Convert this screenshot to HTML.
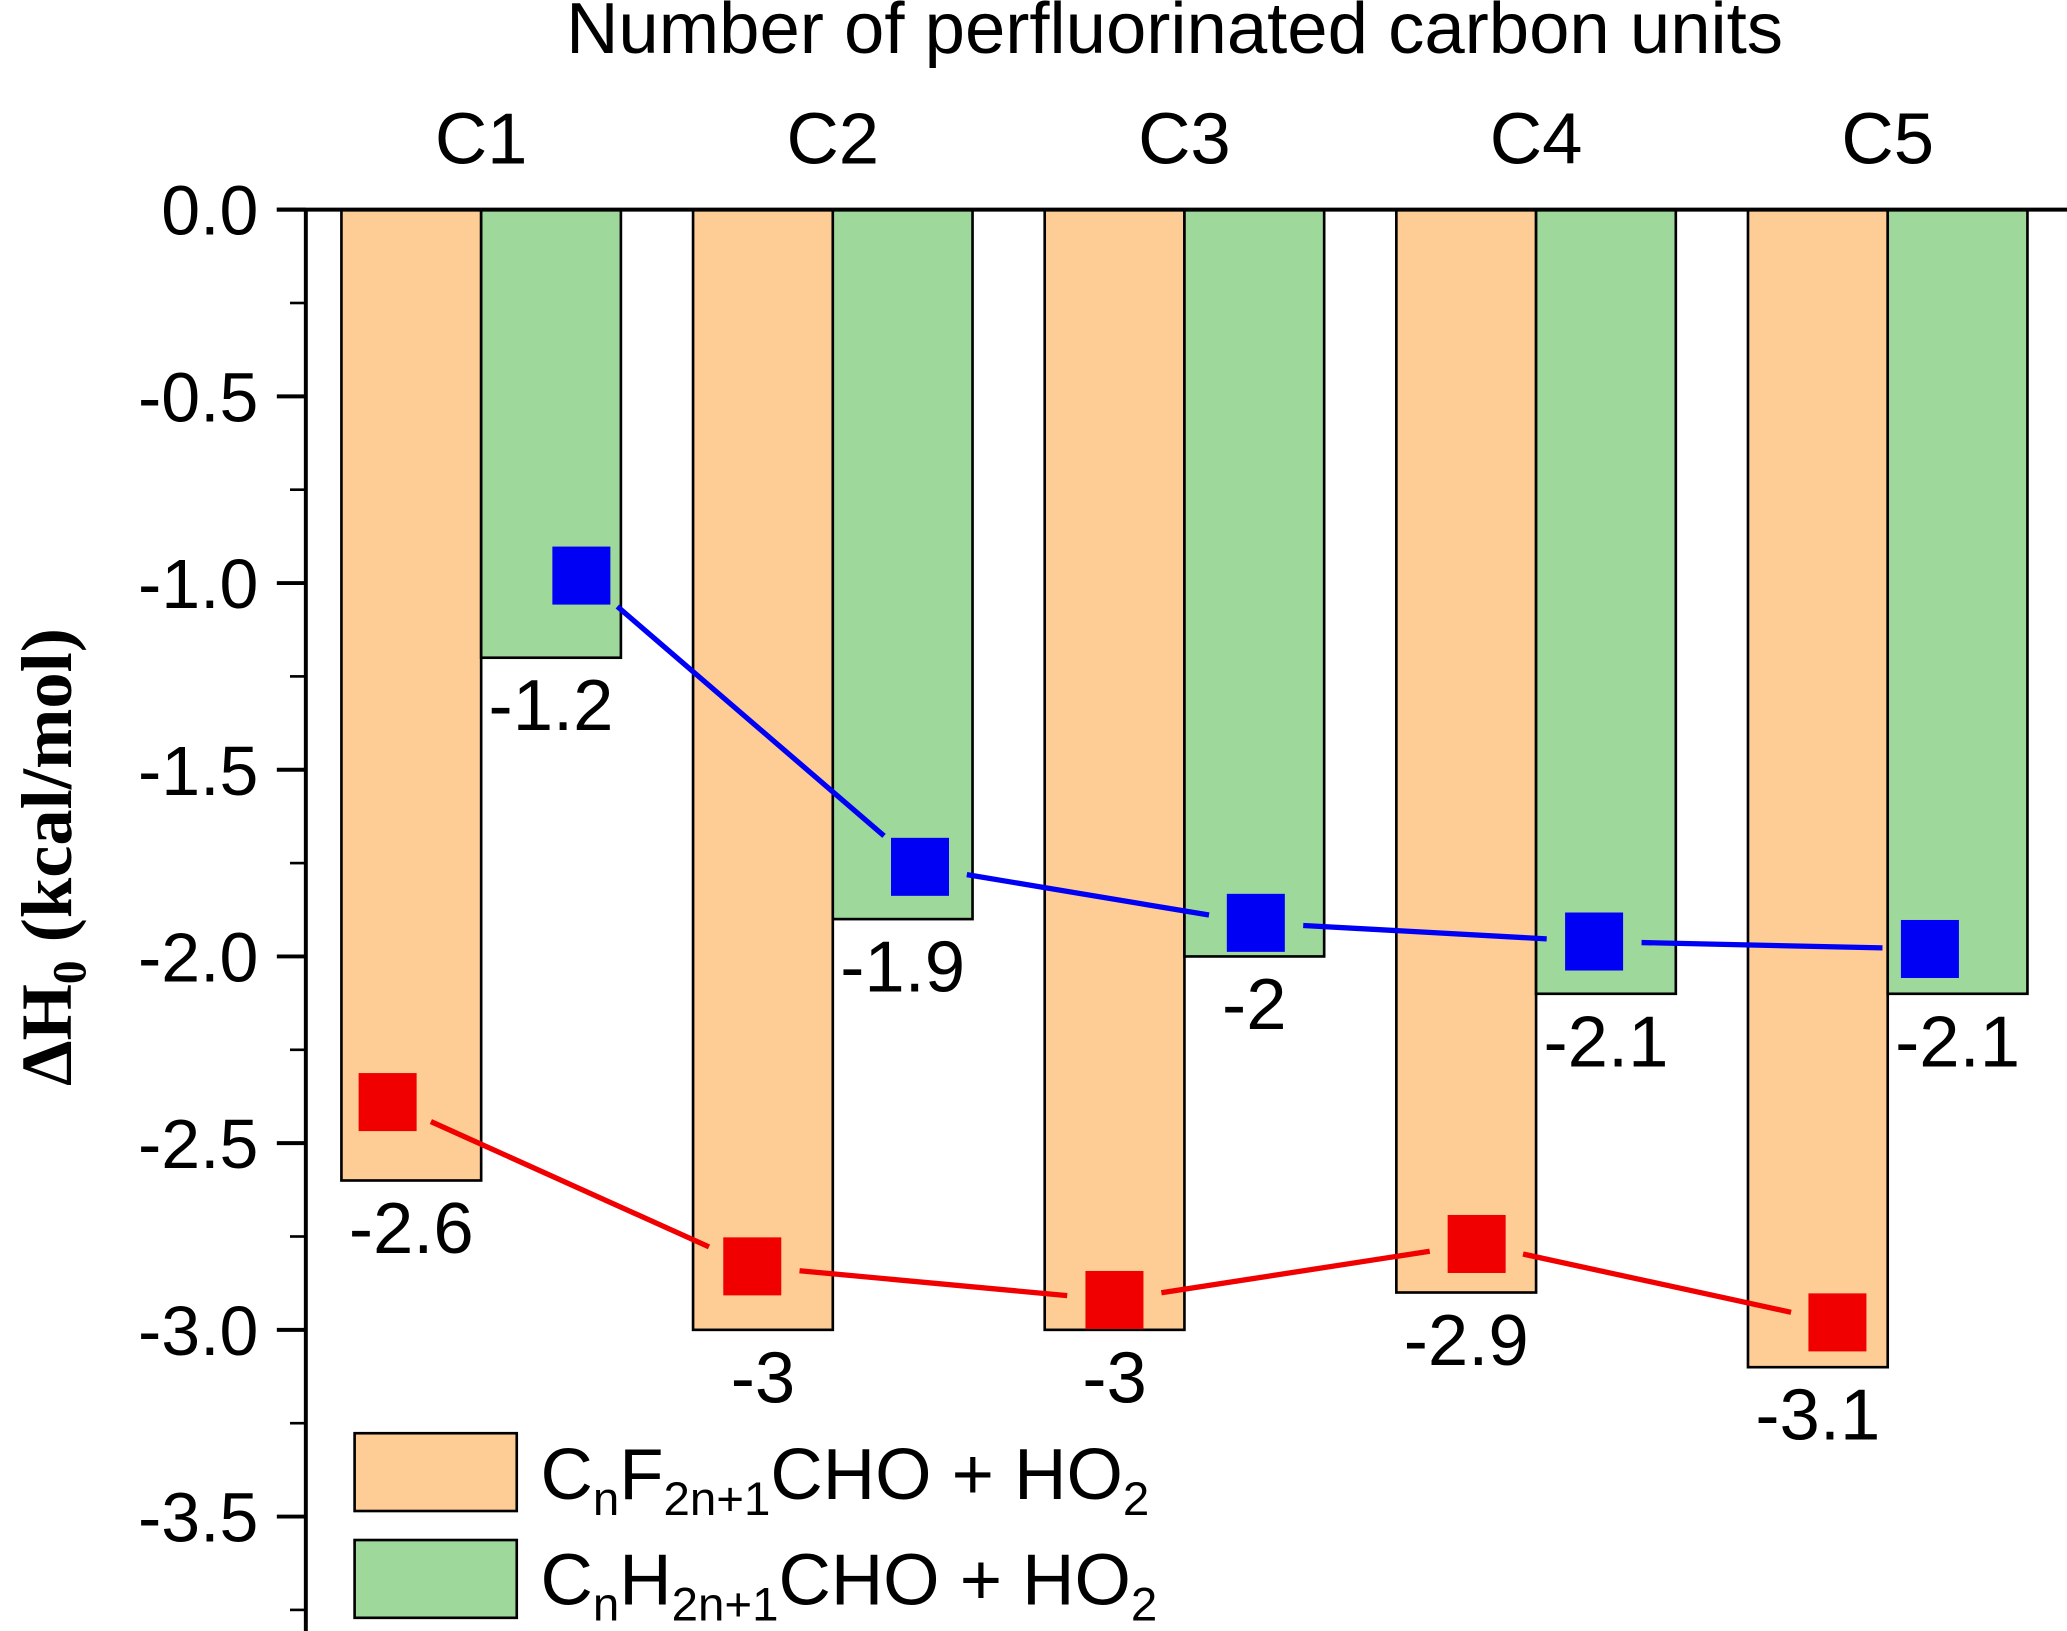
<!DOCTYPE html>
<html><head><meta charset="utf-8"><style>
html,body{margin:0;padding:0;background:#fff;}
svg{display:block;font-family:"Liberation Sans",Arial,sans-serif;}
</style></head><body>
<svg id="chart" width="2067" height="1631" viewBox="0 0 1568 1237" preserveAspectRatio="none" xmlns="http://www.w3.org/2000/svg">
<g id="bars"></g><g id="axes"></g><g id="lines"></g><g id="marks"></g><g id="labels"></g>
<text x="891" y="40" font-size="55" text-anchor="middle">Number of perfluorinated carbon units</text>
<text transform="translate(54,650) rotate(-90)" font-size="55" font-weight="bold" text-anchor="middle" font-family="Liberation Serif,serif">ΔH<tspan font-size="36" dy="11">0</tspan><tspan dy="-11"> (kcal/mol)</tspan></text>
<g>
<rect x="269" y="1087" width="123" height="59" fill="#FDCD95" stroke="#000" stroke-width="2"/>
<text x="410" y="1137" font-size="55">C<tspan font-size="36" dy="12">n</tspan><tspan dy="-12">F</tspan><tspan font-size="36" dy="12">2n+1</tspan><tspan dy="-12">CHO + HO</tspan><tspan font-size="36" dy="12">2</tspan></text>
<rect x="269" y="1168" width="123" height="59" fill="#9ED89B" stroke="#000" stroke-width="2"/>
<text x="410" y="1217" font-size="55">C<tspan font-size="36" dy="12">n</tspan><tspan dy="-12">H</tspan><tspan font-size="36" dy="12">2n+1</tspan><tspan dy="-12">CHO + HO</tspan><tspan font-size="36" dy="12">2</tspan></text>
</g>
</svg>
<script>
const categories = ["C1","C2","C3","C4","C5"];
const fluorinated = [-2.6,-3.0,-3.0,-2.9,-3.1];
const hydrogenated = [-1.2,-1.9,-2.0,-2.1,-2.1];
const fluorLabels = ["-2.6","-3","-3","-2.9","-3.1"];
const hydroLabels = ["-1.2","-1.9","-2","-2.1","-2.1"];
const blueX = [1.285,2.248,3.203,4.165,5.12];
const blueY = [-0.98,-1.76,-1.91,-1.96,-1.98];
const redX = [0.734,1.771,2.801,3.831,4.857];
const redY = [-2.39,-2.83,-2.92,-2.77,-2.98];
const yTicks = [0,-0.5,-1,-1.5,-2,-2.5,-3,-3.5];
const yTickLabels = ["0.0","-0.5","-1.0","-1.5","-2.0","-2.5","-3.0","-3.5"];

const NS="http://www.w3.org/2000/svg";
const Y=v=>159+(-v)*283.2;
const X=c=>365+(c-1)*266.75;
const BW=106;
function mk(t,a,p){const e=document.createElementNS(NS,t);for(const k in a)e.setAttribute(k,a[k]);document.getElementById(p).appendChild(e);return e;}

categories.forEach((c,i)=>{
  const cx=X(i+1);
  let r=mk('rect',{x:cx-BW,y:Y(0),width:BW,height:Y(fluorinated[i])-Y(0),fill:'#FDCD95',stroke:'#000','stroke-width':2},'bars');
  
  
  r=mk('rect',{x:cx,y:Y(0),width:BW,height:Y(hydrogenated[i])-Y(0),fill:'#9ED89B',stroke:'#000','stroke-width':2},'bars');
  
  
  let t=mk('text',{x:cx-BW/2,y:Y(fluorinated[i])+55,'font-size':55,'text-anchor':'middle'},'labels');
  t.textContent=fluorLabels[i];
  
  
  t=mk('text',{x:cx+BW/2,y:Y(hydrogenated[i])+55,'font-size':55,'text-anchor':'middle'},'labels');
  t.textContent=hydroLabels[i];
  
  
  t=mk('text',{x:cx,y:124,'font-size':55,'text-anchor':'middle'},'labels');
  t.textContent=c;
  
  
});
let a=mk('line',{x1:232,y1:159,x2:232,y2:1237,stroke:'#000','stroke-width':3},'axes');


a=mk('line',{x1:210,y1:159,x2:1568,y2:159,stroke:'#000','stroke-width':3},'axes');


yTicks.forEach((v,i)=>{
  let l=mk('line',{x1:210,y1:Y(v),x2:232,y2:Y(v),stroke:'#000','stroke-width':3},'axes');
  
  
  let m=mk('line',{x1:220,y1:Y(v-0.25),x2:232,y2:Y(v-0.25),stroke:'#000','stroke-width':2},'axes');
  
  
  let t=mk('text',{x:196,y:Y(v)+19,'font-size':53,'text-anchor':'end'},'axes');
  t.textContent=yTickLabels[i];
  
  
});
function series(xs,ys,color,name){
  for(let i=0;i<xs.length-1;i++){
    const x1=X(xs[i]),y1=Y(ys[i]),x2=X(xs[i+1]),y2=Y(ys[i+1]);
    const d=Math.hypot(x2-x1,y2-y1),g=36/d;
    let l=mk('line',{x1:x1+(x2-x1)*g,y1:y1+(y2-y1)*g,x2:x2-(x2-x1)*g,y2:y2-(y2-y1)*g,stroke:color,'stroke-width':4},'lines');
    
    
  }
  xs.forEach((x,i)=>{
    let r=mk('rect',{x:X(x)-22,y:Y(ys[i])-22,width:44,height:44,fill:color},'marks');
    
    
  });
}
series(blueX,blueY,'#0000F5','blue');
series(redX,redY,'#F00000','red');
</script>
</body></html>
